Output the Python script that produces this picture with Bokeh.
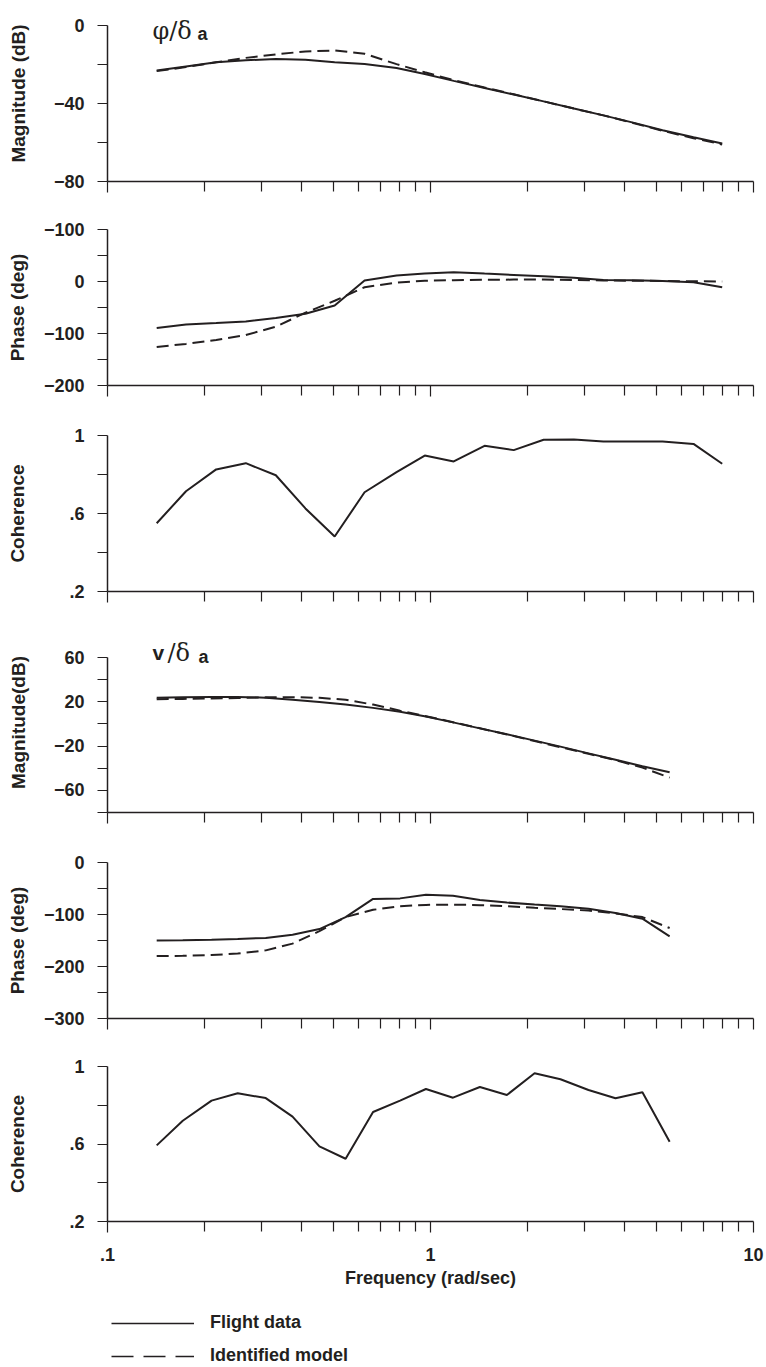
from bokeh.plotting import figure
from bokeh.models import Range1d, FixedTicker, Label, Legend, LegendItem
from bokeh.layouts import column
from bokeh.embed import file_html
from bokeh.resources import INLINE

# ---------------- data ----------------
x_ticks = [0.1, 1, 10]
x_tick_labels = [".1", "1", "10"]
x_minor = [0.2, 0.3, 0.4, 0.5, 0.6, 0.7, 0.8, 0.9, 2, 3, 4, 5, 6, 7, 8, 9]

phi_freq = [0.142, 0.175, 0.217, 0.268, 0.332, 0.41, 0.505, 0.625, 0.785, 0.96,
            1.18, 1.47, 1.81, 2.24, 2.78, 3.43, 4.24, 5.23, 6.52, 8.0]
phi_mag_flight = [-23.1, -21.0, -18.9, -17.8, -17.2, -17.6, -18.8, -19.8, -21.8, -24.9,
                  -28.4, -32.0, -35.4, -38.9, -42.6, -46.1, -49.8, -53.7, -57.3, -60.5]
phi_mag_model = [-23.4, -21.3, -18.9, -16.6, -14.8, -13.3, -12.8, -14.5, -19.8, -24.0,
                 -28.0, -31.8, -35.3, -38.9, -42.6, -46.1, -50.0, -54.0, -57.8, -61.0]
phi_phase_flight = [-89.5, -82.7, -80.0, -77.0, -70.3, -62.0, -46.0, 2.0, 11.5, 15.5,
                    18.0, 15.2, 12.6, 9.9, 7.0, 3.1, 2.3, 0.8, -1.3, -11.0]
phi_phase_model = [-126, -120, -112.5, -103, -87, -60, -37, -11, -2, 1.5,
                   2.5, 3.2, 3.7, 3.8, 3.0, 2.0, 1.5, 1.0, 0.5, 0.0]
phi_coherence = [0.550, 0.714, 0.826, 0.858, 0.796, 0.626, 0.482, 0.709, 0.812, 0.897,
                 0.867, 0.947, 0.925, 0.978, 0.979, 0.969, 0.969, 0.969, 0.957, 0.855]

v_freq = [0.142, 0.171, 0.21, 0.253, 0.309, 0.374, 0.453, 0.546, 0.664, 0.805,
          0.968, 1.174, 1.422, 1.724, 2.10, 2.526, 3.084, 3.74, 4.53, 5.50]
v_mag_flight = [23.6, 24.0, 24.4, 24.4, 23.7, 21.8, 19.8, 17.5, 14.5, 11.0,
                6.7, 1.4, -4.0, -9.4, -15.1, -20.5, -26.6, -32.4, -38.2, -43.6]
v_mag_model = [22.3, 22.6, 23.0, 23.4, 24.0, 24.2, 23.6, 21.8, 17.5, 12.0,
               7.0, 1.6, -3.9, -9.5, -15.5, -21.0, -27.0, -32.6, -39.5, -48.5]
v_phase_flight = [-150, -149.5, -148.5, -147, -145, -139, -128, -105, -70, -69,
                  -62, -64, -72, -77, -81, -84, -89, -97, -108, -142]
v_phase_model = [-180, -179.5, -178, -175, -169, -156, -132, -105, -91, -84,
                 -81.5, -81, -82, -84, -87, -89.5, -92.5, -98, -105, -126]
v_coherence = [0.593, 0.72, 0.824, 0.862, 0.837, 0.741, 0.588, 0.524, 0.765, 0.824,
               0.884, 0.839, 0.894, 0.853, 0.965, 0.934, 0.879, 0.836, 0.867, 0.612]

mag1_ticks = [-80, -60, -40, -20, 0]
mag1_labels = ["−80", " ", "−40", " ", "0"]
phase1_ticks = [-200, -150, -100, -50, 0, 50, 100]
phase1_labels = ["−200", " ", "−100", " ", "0", " ", "−100"]
coh_ticks = [0.2, 0.4, 0.6, 0.8, 1.0]
coh_labels = [".2", " ", ".6", " ", "1"]
mag2_ticks = [-80, -60, -40, -20, 0, 20, 40, 60]
mag2_labels = [" ", "−60", " ", "−20", " ", "20", " ", "60"]
phase2_ticks = [-300, -250, -200, -150, -100, -50, 0]
phase2_labels = ["−300", " ", "−200", " ", "−100", " ", "0"]

INK = "#231f20"
FONT = "Liberation Sans"
DASH = "12 6"


def make_fig(height, top, bottom, yr, ybounds, yticks, ylabels, ylabel, lab_standoff,
             last=False):
    p = figure(width=766, height=height, x_axis_type="log",
               x_range=Range1d(0.1, 10), y_range=Range1d(*yr),
               output_backend="svg", toolbar_location=None,
               min_border_left=107, min_border_right=13,
               min_border_top=top, min_border_bottom=bottom)
    p.outline_line_color = None
    p.xgrid.visible = False
    p.ygrid.visible = False
    p.background_fill_color = "white"
    p.border_fill_color = "white"

    xa = p.xaxis[0]
    xa.ticker = FixedTicker(ticks=x_ticks, minor_ticks=x_minor)
    xa.axis_line_color = INK
    xa.axis_line_width = 1.5
    xa.major_tick_line_color = INK
    xa.minor_tick_line_color = INK
    xa.major_tick_line_width = 1.2
    xa.minor_tick_line_width = 1.2
    xa.major_tick_in = 0
    xa.major_tick_out = 11
    xa.minor_tick_in = 0
    xa.minor_tick_out = 10
    if last:
        xa.major_label_overrides = dict(zip(x_ticks, x_tick_labels))
        xa.major_label_text_font = FONT
        xa.major_label_text_font_style = "bold"
        xa.major_label_text_font_size = "18px"
        xa.major_label_text_color = INK
        xa.major_label_standoff = 15
        xa.axis_label = "Frequency (rad/sec)"
        xa.axis_label_text_font = FONT
        xa.axis_label_text_font_style = "bold"
        xa.axis_label_text_font_size = "18px"
        xa.axis_label_text_color = INK
        xa.axis_label_standoff = 4
    else:
        xa.major_label_overrides = {t: " " for t in x_ticks}
        xa.major_label_text_font_size = "1px"
        xa.major_label_standoff = 0

    ya = p.yaxis[0]
    ya.ticker = FixedTicker(ticks=yticks, minor_ticks=[])
    ya.bounds = ybounds
    ya.major_label_overrides = dict(zip(yticks, ylabels))
    ya.axis_line_color = INK
    ya.axis_line_width = 1.5
    ya.major_tick_line_color = INK
    ya.major_tick_line_width = 1.2
    ya.major_tick_in = 0
    ya.major_tick_out = 10
    ya.minor_tick_out = 0
    ya.minor_tick_in = 0
    ya.major_label_standoff = 13
    ya.major_label_text_font = FONT
    ya.major_label_text_font_style = "bold"
    ya.major_label_text_font_size = "18px"
    ya.major_label_text_color = INK
    ya.axis_label = ylabel
    ya.axis_label_text_font = FONT
    ya.axis_label_text_font_style = "bold"
    ya.axis_label_text_font_size = "19px"
    ya.axis_label_text_color = INK
    ya.axis_label_standoff = lab_standoff
    return p


# panel 1: phi magnitude (range extended above 0 so the title fits in the frame)
p1 = make_fig(205, 5, 24, (-80, 20 / 1.95), (-80, 0), mag1_ticks, mag1_labels,
              "Magnitude (dB)", 22)
p1.line(phi_freq, phi_mag_flight, line_color=INK, line_width=2)
p1.line(phi_freq, phi_mag_model, line_color=INK, line_width=2, line_dash=DASH)
p1.add_layout(Label(x=0.1378, y=-2.6, text="φ/δ", text_font="DejaVu Serif",
                    text_font_size="24px", text_color=INK, text_baseline="alphabetic"))
p1.add_layout(Label(x=0.1378, y=-2.6, x_offset=45, y_offset=-3, text="a", text_font=FONT,
                    text_font_style="bold", text_font_size="18px", text_color=INK,
                    text_baseline="alphabetic"))

# panel 2: phi phase
p2 = make_fig(204, 24, 24, (-200, 100), (-200, 100), phase1_ticks, phase1_labels,
              "Phase (deg)", 13)
p2.line(phi_freq, phi_phase_flight, line_color=INK, line_width=2)
p2.line(phi_freq, phi_phase_model, line_color=INK, line_width=2, line_dash=DASH)

# panel 3: phi coherence
p3 = make_fig(206, 26, 24, (0.2, 1.0), (0.2, 1.0), coh_ticks, coh_labels, "Coherence", 38)
p3.line(phi_freq, phi_coherence, line_color=INK, line_width=2)

# panel 4: v magnitude (range extended above 60 for the title)
p4 = make_fig(221, 17, 24, (-80, 60 + 25 / 1.107), (-80, 60), mag2_ticks, mag2_labels,
              "Magnitude(dB)", 22)
p4.line(v_freq, v_mag_flight, line_color=INK, line_width=2)
p4.line(v_freq, v_mag_model, line_color=INK, line_width=2, line_dash=DASH)
p4.add_layout(Label(x=0.1378, y=64.5, text="v", text_font=FONT, text_font_style="bold",
                    text_font_size="21px", text_color=INK, text_baseline="alphabetic"))
p4.add_layout(Label(x=0.1378, y=64.5, x_offset=15, text="/δ", text_font="DejaVu Serif",
                    text_font_size="24px", text_color=INK, text_baseline="alphabetic"))
p4.add_layout(Label(x=0.1378, y=64.5, x_offset=46, y_offset=-4, text="a", text_font=FONT,
                    text_font_style="bold", text_font_size="18px", text_color=INK,
                    text_baseline="alphabetic"))

# panel 5: v phase
p5 = make_fig(206, 26, 24, (-300, 0), (-300, 0), phase2_ticks, phase2_labels,
              "Phase (deg)", 13)
p5.line(v_freq, v_phase_flight, line_color=INK, line_width=2)
p5.line(v_freq, v_phase_model, line_color=INK, line_width=2, line_dash=DASH)

# panel 6: v coherence
p6 = make_fig(259, 24, 80, (0.2, 1.0), (0.2, 1.0), coh_ticks, coh_labels, "Coherence", 38,
              last=True)
p6.line(v_freq, v_coherence, line_color=INK, line_width=2)

# legend strip
p7 = figure(width=766, height=66, x_axis_type="log", x_range=Range1d(0.1, 10),
            y_range=Range1d(0.2, 1.0), output_backend="svg", toolbar_location=None,
            x_axis_location=None, y_axis_location=None,
            min_border_left=107, min_border_right=13, min_border_top=7, min_border_bottom=0)
p7.outline_line_color = None
p7.xgrid.visible = False
p7.ygrid.visible = False
leg_solid = p7.line(v_freq, v_coherence, line_color=INK, line_width=1.3, visible=False)
leg_dash = p7.line(v_freq, v_coherence, line_color=INK, line_width=1.3,
                   line_dash="22 10", visible=False)
legend = Legend(items=[LegendItem(label="Flight data", renderers=[leg_solid]),
                       LegendItem(label="Identified model", renderers=[leg_dash])],
                location="top_left", orientation="vertical",
                glyph_width=83, glyph_height=20, label_height=20, spacing=12,
                label_standoff=16, margin=4, padding=0,
                border_line_color=None, background_fill_alpha=0,
                inactive_fill_alpha=0,
                label_text_font=FONT, label_text_font_style="bold",
                label_text_font_size="18px", label_text_color=INK)
p7.add_layout(legend)

layout = column(p1, p2, p3, p4, p5, p6, p7, spacing=0)
open("out.html", "w").write(file_html(layout, INLINE))
